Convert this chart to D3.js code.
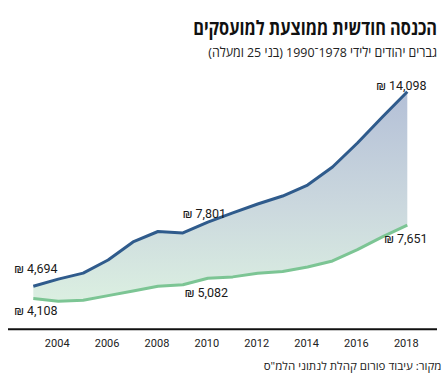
<!DOCTYPE html>
<html>
<head>
<meta charset="utf-8">
<script src="https://cdn.jsdelivr.net/npm/d3@7"></script>
<style>
  html, body { margin: 0; padding: 0; background: #fff; }
  svg { display: block; }
</style>
</head>
<body>
<svg id="chart" width="448" height="378"></svg>
<script>
// ---- data ----
const years = [2003, 2004, 2005, 2006, 2007, 2008, 2009, 2010, 2011, 2012, 2013, 2014, 2015, 2016, 2017, 2018];
const incomeAll = [4694, 5040, 5330, 5965, 6840, 7344, 7272, 7801, 8244, 8674, 9060, 9592, 10463, 11623, 12880, 14098];
const incomeGroup = [4108, 3970, 4025, 4245, 4465, 4700, 4770, 5082, 5150, 5330, 5410, 5625, 5920, 6465, 7085, 7651];
const xTicks = [2004, 2006, 2008, 2010, 2012, 2014, 2016, 2018];
const labelYears = [2003, 2010, 2018];

const titleText = "הכנסה חודשית ממוצעת למועסקים";
const subtitleText = "גברים יהודים ילידי 1978־1990 (בני 25 ומעלה)";
const sourceText = "מקור: עיבוד פורום קהלת לנתוני הלמ\"ס";

// ---- setup ----
const svg = d3.select("#chart");
const W = 448, H = 378;
const x = d3.scaleLinear().domain([2003, 2018]).range([33.3, 407.3]);
const y = d3.scaleLinear().domain([0, 15000]).range([383.4, 383.4 - 15000 * 0.020683]);
const fmt = d3.format(",");

const rows = years.map((yr, i) => ({ yr, a: incomeAll[i], g: incomeGroup[i] }));

// gradient
const defs = svg.append("defs");
const grad = defs.append("linearGradient")
  .attr("id", "fillGrad")
  .attr("gradientUnits", "userSpaceOnUse")
  .attr("x1", 0).attr("x2", 0)
  .attr("y1", y(14098)).attr("y2", y(4000));
grad.append("stop").attr("offset", 0).attr("stop-color", "#b4c0d7");
grad.append("stop").attr("offset", 0.55).attr("stop-color", "#cbd8de");
grad.append("stop").attr("offset", 1).attr("stop-color", "#dbefe1");

// area between
svg.append("path")
  .datum(rows)
  .attr("fill", "url(#fillGrad)")
  .attr("d", d3.area().x(d => x(d.yr)).y0(d => y(d.g)).y1(d => y(d.a)));

// lines
svg.append("path")
  .datum(rows)
  .attr("fill", "none")
  .attr("stroke", "#7cc594")
  .attr("stroke-width", 3)
  .attr("stroke-linejoin", "round")
  .attr("d", d3.line().x(d => x(d.yr)).y(d => y(d.g)));

svg.append("path")
  .datum(rows)
  .attr("fill", "none")
  .attr("stroke", "#2f5b8c")
  .attr("stroke-width", 3)
  .attr("stroke-linejoin", "round")
  .attr("d", d3.line().x(d => x(d.yr)).y(d => y(d.a)));

// x axis
const axisY = 329.3;
const xAxis = d3.axisBottom(x).tickValues(xTicks).tickFormat(d3.format("d")).tickSize(0).tickPadding(0);
const gx = svg.append("g").attr("transform", `translate(0,${axisY})`).call(xAxis);
gx.select(".domain").remove();
gx.selectAll("text")
  .attr("dy", null)
  .attr("y", 18)
  .attr("dx", -1.5)
  .attr("fill", "#222")
  .style("font-family", "Roboto, 'DejaVu Sans', sans-serif")
  .style("font-size", "11px");
svg.append("line")
  .attr("x1", 8).attr("x2", 437)
  .attr("y1", axisY).attr("y2", axisY)
  .attr("stroke", "#111").attr("stroke-width", 2);

// value labels
const labelFont = "Roboto, 'DejaVu Sans', sans-serif";
function valueLabel(val, px, py) {
  svg.append("text")
    .attr("x", px).attr("y", py)
    .attr("fill", "#1a1a1a")
    .style("font-family", labelFont)
    .style("font-size", "12.5px")
    .attr("direction", "ltr")
    .text("₪ " + fmt(val));
}
const i0 = years.indexOf(labelYears[0]);
const i1 = years.indexOf(labelYears[1]);
const i2 = years.indexOf(labelYears[2]);
valueLabel(incomeAll[i0], x(labelYears[0]) - 19, y(incomeAll[i0]) - 13);
valueLabel(incomeGroup[i0], x(labelYears[0]) - 19, y(incomeGroup[i0]) + 17);
valueLabel(incomeAll[i1], x(labelYears[1]) - 25, y(incomeAll[i1]) - 4);
valueLabel(incomeGroup[i1], x(labelYears[1]) - 23, y(incomeGroup[i1]) + 19);
valueLabel(incomeAll[i2], x(labelYears[2]) - 31, y(incomeAll[i2]) - 2);
valueLabel(incomeGroup[i2], x(labelYears[2]) - 23, y(incomeGroup[i2]) + 18);

// hebrew texts, fitted to width
function hebText(str, rightX, baseY, size, weight, targetW, color) {
  const g = svg.append("g");
  const t = g.append("text")
    .attr("x", 0).attr("y", 0)
    .attr("direction", "rtl")
    .attr("text-anchor", "start")
    .attr("fill", color)
    .style("font-family", "'Open Sans', 'Liberation Sans', 'DejaVu Sans', sans-serif")
    .style("font-size", size + "px")
    .style("font-weight", weight)
    .text(str);
  const w = t.node().getComputedTextLength();
  const s = w > 0 ? targetW / w : 1;
  g.attr("transform", `translate(${rightX},${baseY}) scale(${s},1)`);
}
hebText(titleText, 437, 35, 20, 700, 244, "#111");
hebText(subtitleText, 437, 56.5, 13.5, 400, 229, "#222");
hebText(sourceText, 441.5, 369.5, 11, 400, 178, "#222");
</script>
</body>
</html>
